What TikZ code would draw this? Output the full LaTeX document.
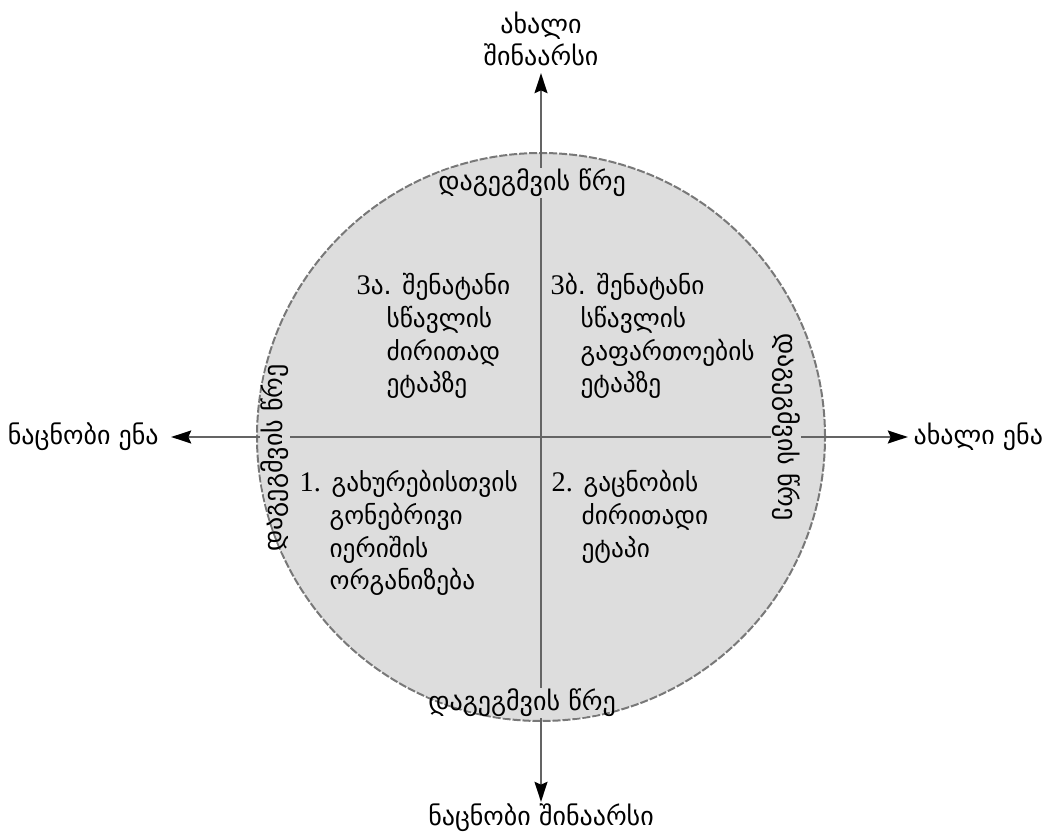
\documentclass[tikz,border=0pt]{standalone}
\usepackage{fontspec}
\setmainfont{DejaVu Sans}
\newfontfamily\numfont[Scale=1.12]{Liberation Serif}
\usetikzlibrary{arrows.meta}
\newcommand\nm[1]{{\numfont #1}}
\newcommand\ind{\hspace*{22.5pt}}
\definecolor{diskfill}{RGB}{221,221,221}
\definecolor{diskrim}{RGB}{120,120,120}
\definecolor{axisgray}{RGB}{100,100,100}
\begin{document}
\begin{tikzpicture}[x=0.75pt,y=-0.75pt,
  txt/.style={font=\fontsize{19.5}{24.5}\selectfont, inner sep=1pt},
  quad/.style={txt, font=\fontsize{19}{24.5}\selectfont, align=left, anchor=north west},
  rimlabel/.style={txt},
  rimback/.style={txt, fill=diskfill, text=diskfill},
  axisline/.style={draw=axisgray, line width=2.2pt,
    {Stealth[length=15pt,width=9.5pt,inset=2pt,black]}-{Stealth[length=15pt,width=9.5pt,inset=2pt,black]}}]
\useasboundingbox (0,0) rectangle (1048,837);

% the disc
\node[circle, draw=diskrim, fill=diskfill, line width=1.5pt, dashed,
      dash pattern=on 6pt off 1.5pt, minimum size=426pt, inner sep=0pt] (disk) at (541,437) {};

% axis end points
\coordinate (up) at (541,73);
\coordinate (down) at (541,802);
\coordinate (left) at (171,437);
\coordinate (right) at (908,437);
\draw[axisline] (down) -- (up);
\draw[axisline] (left) -- (right);

% axis labels
\node[txt, align=center, anchor=south] (newcontent) at ([yshift=4pt]up) {ახალი\\შინაარსი};
\node[txt, anchor=north] (oldcontent) at (down) {ნაცნობი შინაარსი};
\node[txt, anchor=east] (oldlang) at ([xshift=-8pt]left) {ნაცნობი ენა};
\node[txt, anchor=west] (newlang) at ([xshift=3pt]right) {ახალი ენა};

% planning circle labels: backgrounds kept inside the disc, text on top
\begin{scope}
  \clip (disk.center) circle[radius=283];
  \node[rimback] (bgtop) at (532,183) {დაგეგმვის წრე};
  \node[rimback] (bgbottom) at (522,703) {დაგეგმვის წრე};
  \node[rimback, rotate=90] (bgleft) at (275,458) {დაგეგმვის წრე};
  \node[rimback, rotate=-90] (bgright) at (786,427) {დაგეგმვის წრე};
\end{scope}
\node[rimlabel] (rimtop) at (bgtop) {დაგეგმვის წრე};
\node[rimlabel] (rimbottom) at (bgbottom) {დაგეგმვის წრე};
\node[rimlabel, rotate=90] (rimleft) at (bgleft) {დაგეგმვის წრე};
\node[rimlabel, rotate=-90] (rimright) at (bgright) {დაგეგმვის წრე};

% quadrant texts
\node[quad] (q3a) at (355,272) {\nm{3}ა. შენატანი\\
  \ind სწავლის\\
  \ind ძირითად\\
  \ind ეტაპზე};
\node[quad] (q3b) at (549,272) {\nm{3}ბ. შენატანი\\
  \ind სწავლის\\
  \ind გაფართოების\\
  \ind ეტაპზე};
\node[quad] (q1) at (298,469) {\nm{1.} გახურებისთვის\\
  \ind გონებრივი\\
  \ind იერიშის\\
  \ind ორგანიზება};
\node[quad] (q2) at (550,469) {\nm{2.} გაცნობის\\
  \ind ძირითადი\\
  \ind ეტაპი};
\end{tikzpicture}
\end{document}
